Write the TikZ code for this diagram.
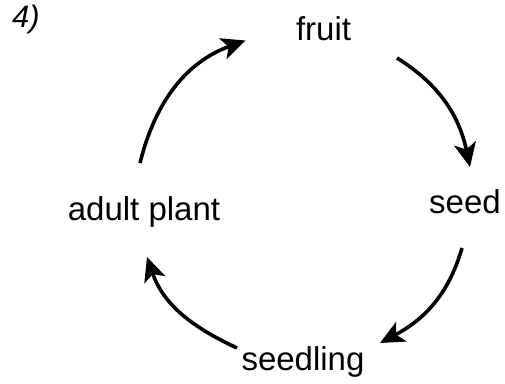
\documentclass[tikz,border=0pt]{standalone}
\usepackage{fontspec}
\setmainfont{Liberation Sans}
\usepackage{tikz}
\usetikzlibrary{arrows.meta}

\begin{document}
\begin{tikzpicture}[
        x=1pt, y=1pt,
        stage/.style={inner sep=0pt, anchor=base, font=\fontsize{33}{38}\selectfont},
        cyc/.style={-{Stealth[length=24pt, width=22pt, inset=6pt]}, line width=3.6pt}
    ]
        \useasboundingbox (0,0) rectangle (505,383);

        \node[inner sep=0pt, font=\itshape\fontsize{31}{34}\selectfont] (num) at (26,364) {4)};
        \node[stage] (fruit) at (323.5,342.5) {fruit};
        \node[stage] (seed) at (465,170) {seed};
        \node[stage] (seedling) at (303,13) {seedling};
        \node[stage] (adult) at (144,163) {adult plant};

        \draw[cyc] ([shift={(-4,57)}]adult.base) to[out=76, in=200] ([shift={(-78,0)}]fruit.base);
        \draw[cyc] ([shift={(73.5,-17.5)}]fruit.base) to[out=-32, in=102] ([shift={(5,46)}]seed.base);
        \draw[cyc] ([shift={(-3,-35)}]seed.base) to[out=-106, in=28] ([shift={(77,27)}]seedling.base);
        \draw[cyc] ([shift={(-66,22)}]seedling.base) to[out=155, in=-71] ([shift={(3,-37)}]adult.base);
    \end{tikzpicture}
\end{document}
